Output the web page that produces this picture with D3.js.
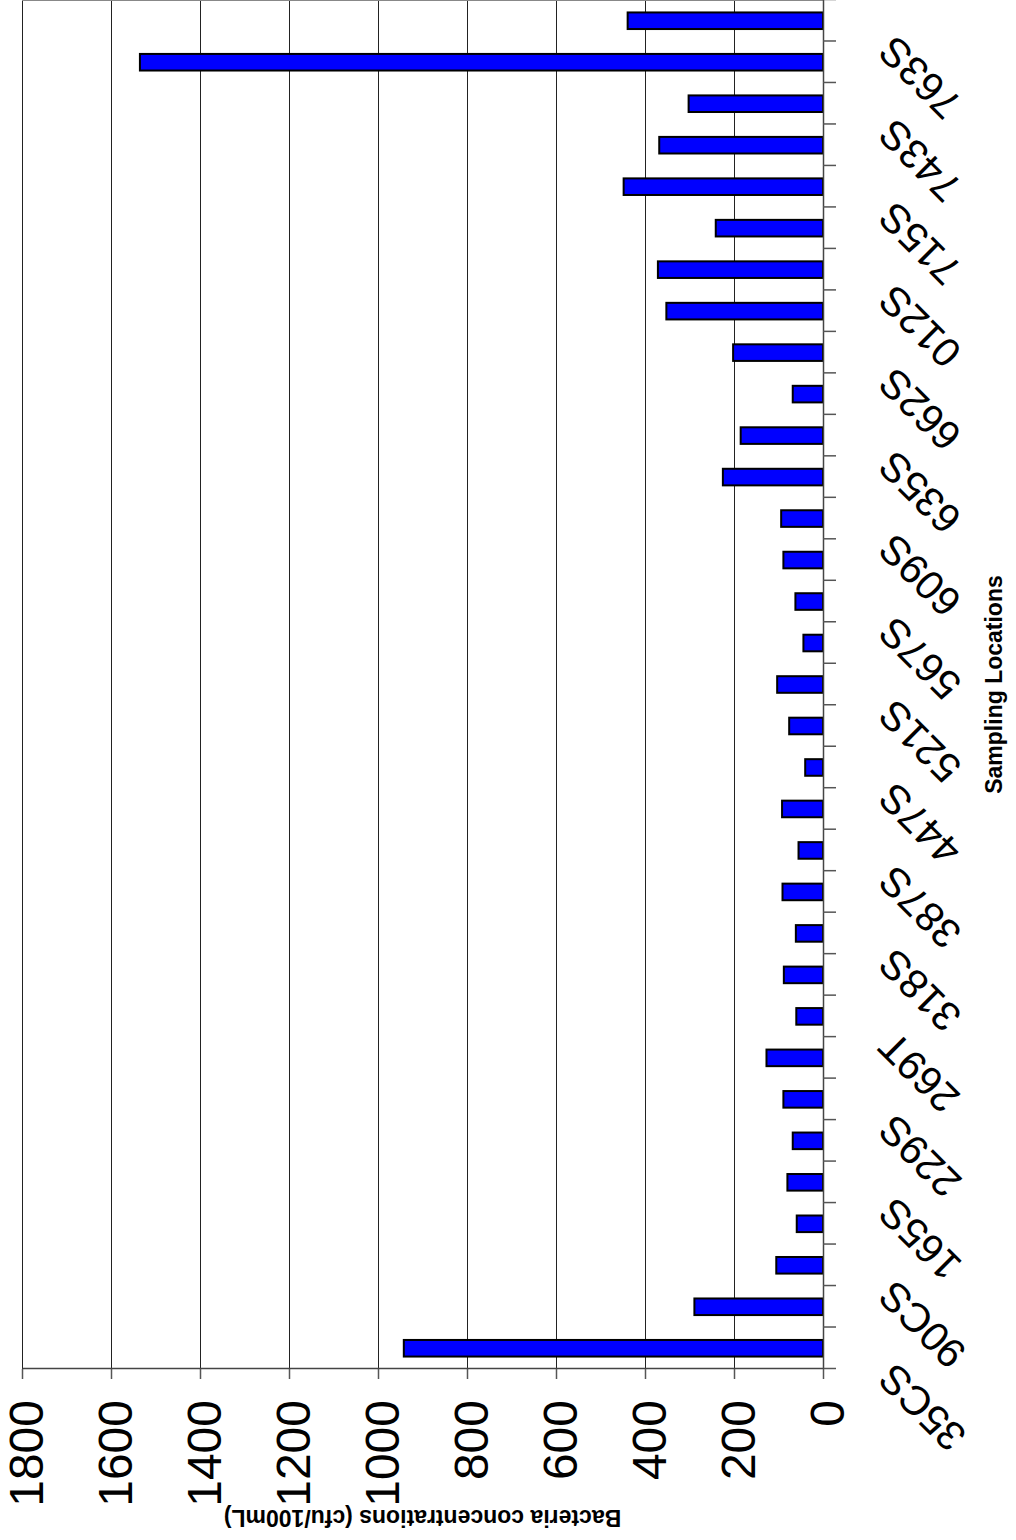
<!DOCTYPE html>
<html>
<head>
<meta charset="utf-8">
<script src="https://cdn.jsdelivr.net/npm/d3@7"></script>
<style>
body { margin: 0; background: #fff; }
svg { display: block; }
text { font-family: "Liberation Sans", Arial, sans-serif; }
</style>
</head>
<body>
<svg id="chart"></svg>
<script>
// sampling locations (only every other one is labelled on the axis)
const labels = ['35CS', '90CS', '165S', '229S', '269T', '318S', '387S', '447S', '521S',
                '567S', '609S', '635S', '662S', '012S', '715S', '743S', '763S'];
// bacteria concentrations, cfu/100mL, one per bar from 35CS upward
const values = [942, 289, 105, 59, 80, 68, 89, 127, 60, 88, 61, 91, 55, 92, 40, 76, 103,
                44, 62, 89, 94, 225, 185, 68, 202, 352, 371, 241, 448, 368, 302, 1535, 439];
const valueTicks = [0, 200, 400, 600, 800, 1000, 1200, 1400, 1600, 1800];

const W = 1016, H = 1540;
// the chart is laid out landscape and then turned a quarter turn
const plot = { left: 171, right: 1540, top: 22, bottom: 823 };

const svg = d3.select('#chart').attr('width', W).attr('height', H);
const g = svg.append('g').attr('transform', `translate(0,${H}) rotate(-90)`);

const x = d3.scaleBand()
    .domain(d3.range(values.length))
    .range([plot.left, plot.right])
    .paddingInner(0.6)
    .paddingOuter(0.3);
const xEdge = d3.scaleLinear().domain([0, values.length]).range([plot.left, plot.right]);
const y = d3.scaleLinear().domain([0, 1800]).range([plot.bottom, plot.top]);

//gridlines
const grid = g.append('g')
    .attr('transform', `translate(${plot.left},0)`)
    .call(d3.axisLeft(y).tickValues(valueTicks.slice(1)).tickSize(-(plot.right - plot.left)).tickFormat(''));
grid.select('.domain').remove();
grid.selectAll('line').attr('stroke', '#222').attr('stroke-width', 1);

g.append('line')
    .attr('x1', plot.right - 0.5).attr('x2', plot.right - 0.5)
    .attr('y1', plot.top).attr('y2', plot.bottom)
    .attr('stroke', '#888');

//bars
g.selectAll('.bar')
    .data(values)
    .enter()
    .append('rect')
    .attr('class', 'bar')
    .attr('x', (d, i) => x(i))
    .attr('y', d => y(d))
    .attr('width', x.bandwidth())
    .attr('height', d => y(0) - y(d))
    .attr('fill', '#0000ff')
    .attr('stroke', '#000')
    .attr('stroke-width', 2);

//category axis: ticks between bars
const catAxis = g.append('g')
    .attr('transform', `translate(0,${plot.bottom})`)
    .call(d3.axisBottom(xEdge).tickValues(d3.range(0, values.length + 1)).tickSize(13).tickSizeOuter(0).tickFormat(''));
catAxis.select('.domain').attr('stroke', '#444').attr('stroke-width', 1.5);
catAxis.selectAll('line').attr('stroke', '#555').attr('stroke-width', 1.5);

//category labels
const catLabels = g.append('g')
    .attr('transform', `translate(0,${plot.bottom})`)
    .call(d3.axisBottom(x).tickValues(d3.range(0, values.length, 2)).tickFormat(i => labels[i / 2]).tickSize(0));
catLabels.select('.domain').remove();
catLabels.selectAll('text')
    .attr('x', 0).attr('y', 0).attr('dy', 0)
    .attr('text-anchor', 'end')
    .attr('transform', 'translate(-13,73) rotate(-45)')
    .style('font-size', '41px')
    .attr('fill', '#000');

//value axis
const valAxis = g.append('g')
    .attr('transform', `translate(${plot.left},0)`)
    .call(d3.axisLeft(y).tickValues(valueTicks).tickFormat(d3.format('d')).tickSize(10).tickPadding(21).tickSizeOuter(0));
valAxis.select('.domain').attr('stroke', '#444').attr('stroke-width', 1.5);
valAxis.selectAll('line').attr('stroke', '#555').attr('stroke-width', 1.5);
valAxis.selectAll('text')
    .attr('dy', '0.42em')
    .style('font-size', '48px')
    .attr('fill', '#000');

//axis titles
g.append('text')
    .attr('transform', `translate(30,${(plot.top + plot.bottom) / 2}) rotate(-90)`)
    .attr('text-anchor', 'middle')
    .style('font-size', '23px')
    .style('font-weight', 'bold')
    .text('Bacteria concentrations (cfu/100mL)');

g.append('text')
    .attr('x', (plot.left + plot.right) / 2)
    .attr('y', 1002)
    .attr('text-anchor', 'middle')
    .style('font-size', '23px')
    .style('font-weight', 'bold')
    .text('Sampling Locations');
</script>
</body>
</html>
